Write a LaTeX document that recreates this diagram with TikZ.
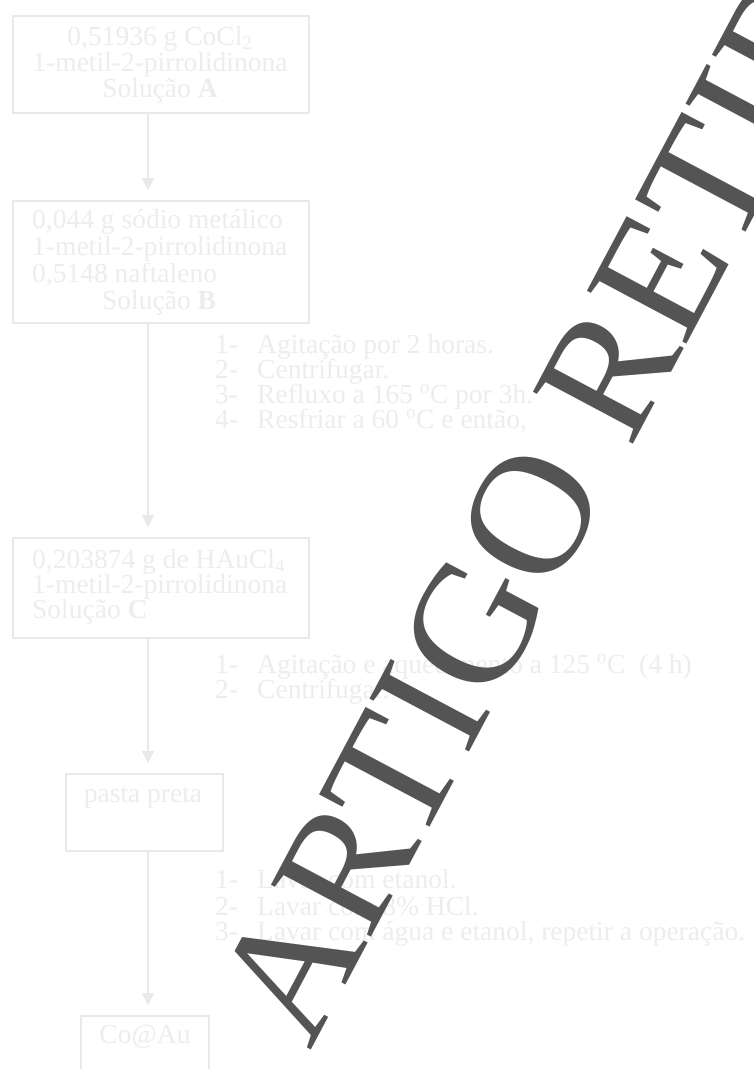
\documentclass[tikz,border=0pt]{standalone}
\usepackage{fontspec}
\setmainfont{Liberation Serif}
\usetikzlibrary{arrows.meta}
\definecolor{flowtxt}{RGB}{237,237,237}
\definecolor{flowline}{RGB}{233,233,233}
\definecolor{wmgray}{RGB}{84,84,84}
\tikzset{
  box/.style={draw=flowline, line width=1.5pt, rectangle, inner sep=0pt, anchor=north west},
  txt/.style={text=flowtxt, inner sep=0pt, font=\fontsize{27.5}{26.5}\selectfont},
  arr/.style={draw=flowline, line width=1.5pt, -{Triangle[width=12pt,length=12pt]}, shorten >=10pt},
  wm/.style={text=wmgray, inner sep=0pt, font=\fontsize{172}{172}\selectfont}
}
\newcommand{\stepitem}[4]{\node[txt, anchor=base west] (#1n) at (215,#2) {#3};
  \node[txt, anchor=base west] (#1t) at (257,#2) {#4};}
\begin{document}
\begin{tikzpicture}[x=1pt,y=-1pt]
\useasboundingbox (0,0) rectangle (754,1069);
\begin{scope}
\clip (0,0) rectangle (754,1069);
\fill[white] (0,0) rectangle (754,1069);
% boxes
\node[box, minimum width=296pt, minimum height=97pt] (A) at (12,15) {};
\node[box, minimum width=296pt, minimum height=122pt] (B) at (12,200) {};
\node[box, minimum width=296pt, minimum height=100pt] (C) at (12,537) {};
\node[box, minimum width=157pt, minimum height=77pt] (P) at (65,773) {};
\node[box, minimum width=128pt, minimum height=70pt] (D) at (80,1015) {};
% box texts
\node[txt, anchor=base] (a1) at (160,45) {0,51936 g CoCl\textsubscript{2}};
\node[txt, anchor=base] (a2) at (160,71) {1-metil-2-pirrolidinona};
\node[txt, anchor=base] (a3) at (160,97) {Solução \textbf{A}};
\node[txt, anchor=base west] (b1) at (32,228) {0,044 g sódio metálico};
\node[txt, anchor=base west] (b2) at (32,255) {1-metil-2-pirrolidinona};
\node[txt, anchor=base west] (b3) at (32,282) {0,5148 naftaleno};
\node[txt, anchor=base west] (b4) at (102,309) {Solução \textbf{B}};
\node[txt, anchor=base west] (c1) at (32,568) {0,203874 g de HAuCl\textsubscript{4}};
\node[txt, anchor=base west] (c2) at (32,593) {1-metil-2-pirrolidinona};
\node[txt, anchor=base west] (c3) at (32,618) {Solução \textbf{C}};
\node[txt, anchor=base] (p1) at (143,802) {pasta preta};
\node[txt, anchor=base] (d1) at (145,1043) {Co@Au};
% step lists
\stepitem{s11}{353}{1-}{Agitação por 2 horas.}
\stepitem{s12}{378}{2-}{Centrifugar.}
\stepitem{s13}{403}{3-}{Refluxo a 165 \textsuperscript{o}C por 3h.}
\stepitem{s14}{428}{4-}{Resfriar a 60 \textsuperscript{o}C e então,}
\stepitem{s21}{673}{1-}{Agitação e aquecimento a 125 \textsuperscript{o}C\ \ (4 h)}
\stepitem{s22}{698}{2-}{Centrifugar.}
\stepitem{s31}{888}{1-}{Lavar com etanol.}
\stepitem{s32}{915}{2-}{Lavar com 8\% HCl.}
\stepitem{s33}{940}{3-}{Lavar com água e etanol, repetir a operação.}
% arrows
\draw[arr] ([xshift=136pt]A.south west) -- ([xshift=136pt]B.north west);
\draw[arr] ([xshift=136pt]B.south west) -- ([xshift=136pt]C.north west);
\draw[arr] ([xshift=136pt]C.south west) -- ([xshift=83pt]P.north west);
\draw[arr] ([xshift=83pt]P.south west) -- ([xshift=68pt]D.north west);
% watermark
\node[wm, rotate=62, anchor=base west] (wm) at (310,1052) {ARTIGO RETIRADO};
\end{scope}
\end{tikzpicture}
\end{document}
